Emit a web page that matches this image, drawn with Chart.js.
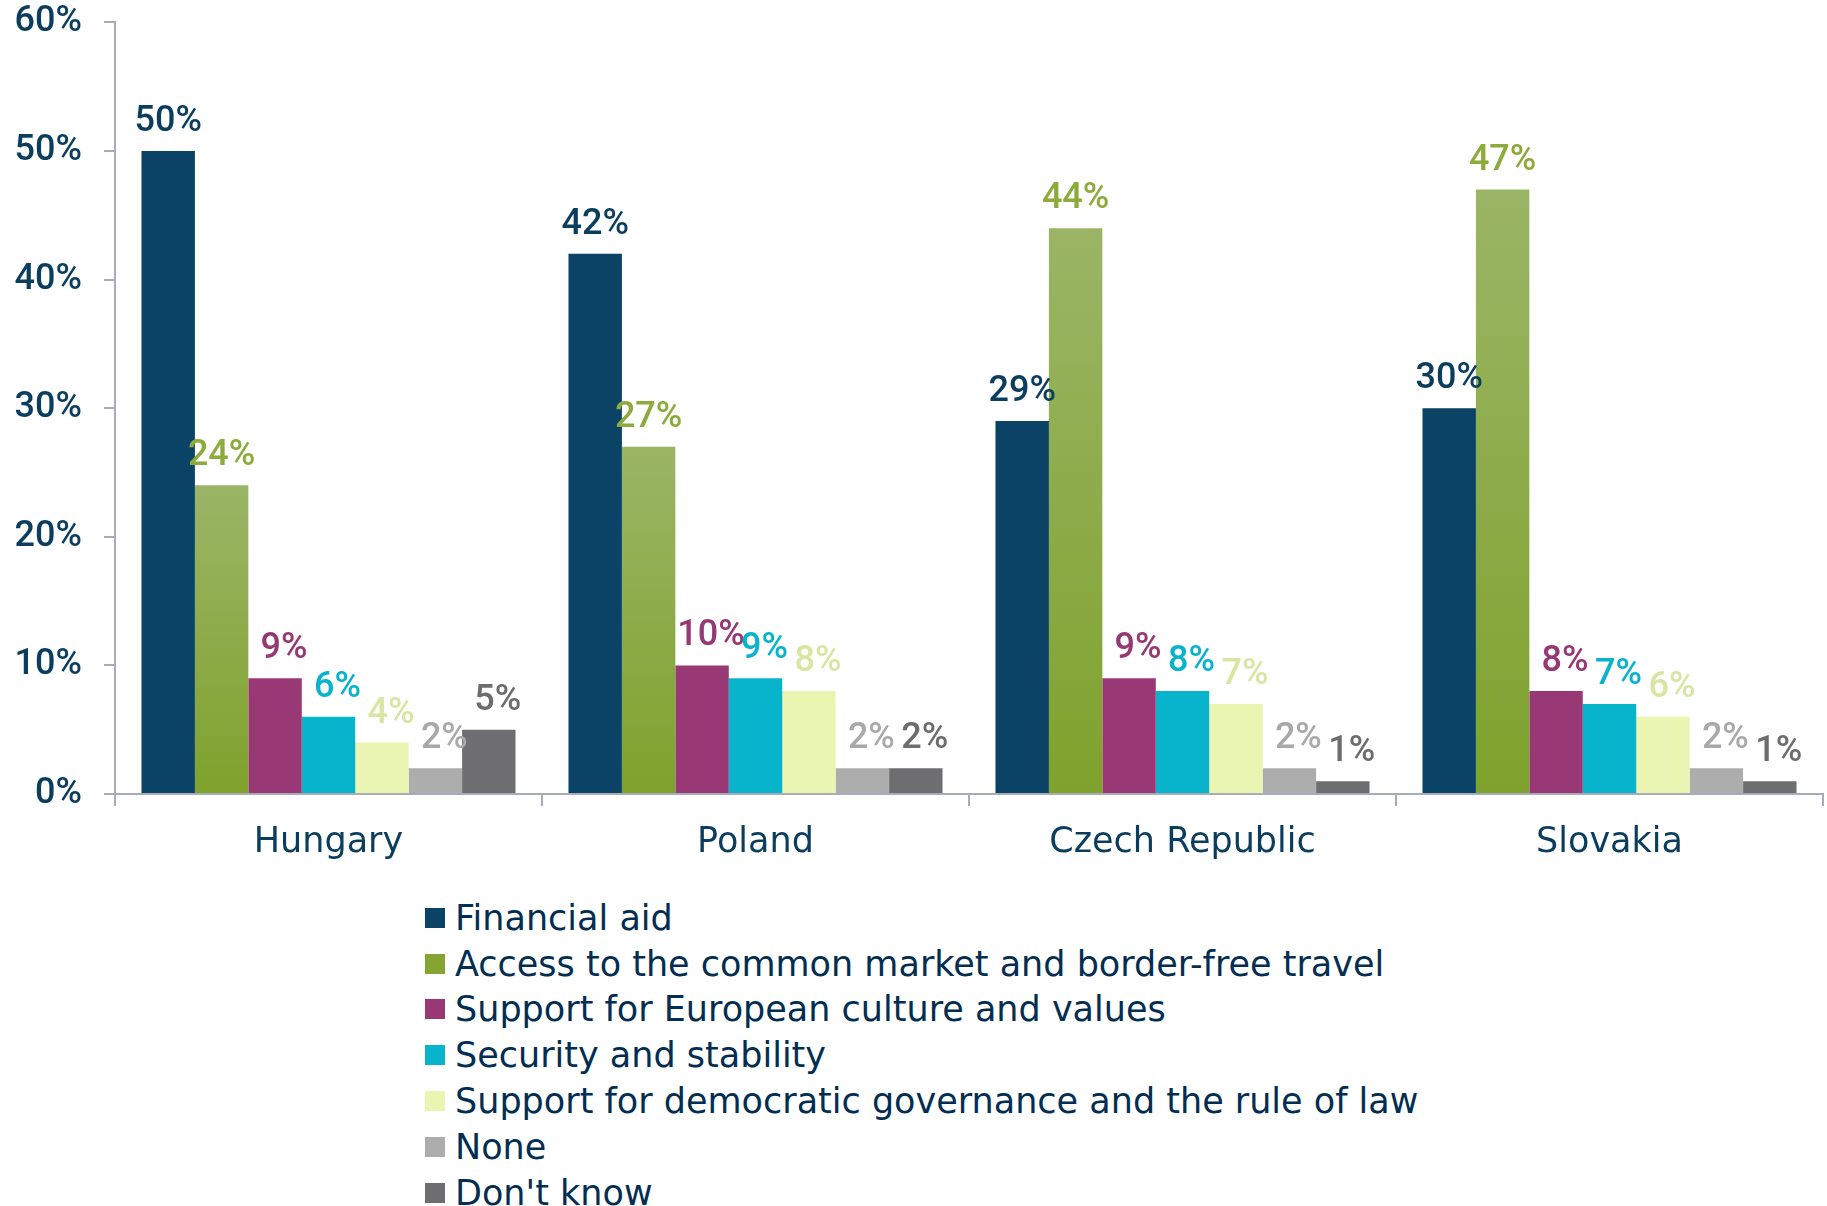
<!DOCTYPE html>
<html><head><meta charset="utf-8">
<script src="https://cdn.jsdelivr.net/npm/chart.js@4/dist/chart.umd.min.js"></script>
<style>
html,body{margin:0;padding:0;background:#fff;}
#wrap{position:relative;width:1827px;height:1206px;overflow:hidden;}
#c{position:absolute;left:0;top:0;}
#legend{position:absolute;left:425px;top:895px;font-family:"DejaVu Sans";font-size:35px;color:#032e52;}
.item{display:flex;align-items:center;height:45.8px;white-space:nowrap;}
.box{width:20px;height:20px;margin-right:10px;flex:none;}
</style></head><body>
<div id="wrap"><canvas id="c" width="1827" height="880"></canvas><div id="legend"></div></div>
<script>
const categories = ["Hungary", "Poland", "Czech Republic", "Slovakia"];
const seriesNames = ["Financial aid", "Access to the common market and border-free travel", "Support for European culture and values", "Security and stability", "Support for democratic governance and the rule of law", "None", "Don't know"];
const financialAid = [50, 42, 29, 30];
const commonMarket = [24, 27, 44, 47];
const cultureValues = [9, 10, 9, 8];
const security = [6, 9, 8, 7];
const democracy = [4, 8, 7, 6];
const none = [2, 2, 2, 2];
const dontKnow = [5, 2, 1, 1];
const yTicks = [0, 10, 20, 30, 40, 50, 60];

const seriesValues = [financialAid, commonMarket, cultureValues, security, democracy, none, dontKnow];
const barColors = ["#0a4366", "GRADIENT", "#983874", "#07b4cc", "#e9f5b1", "#adadad", "#6e6e70"];
const legendColors = ["#0a4366", "#84a532", "#983874", "#07b4cc", "#e9f5b1", "#adadad", "#6e6e70"];
const labelColors = ["#0b3d5e", "#8dab3b", "#963873", "#08b4cd", "#d8e6a4", "#a9a9a9", "#6d6d6d"];

const NUMFONT = 'Roboto';
const WORDFONT = '"DejaVu Sans"';
const WEIGHT = '500';
const axisColor = "#a7acb9";
const textColor = "#0b3d5e";
const SMALL_LABEL_NUDGE = 9; // small-bar labels sit slightly to the right, as in the original

function greenGradient(context){
  const chart = context.chart;
  const ys = chart.scales.y;
  if (!ys || context.type !== 'data') return "#8aa83c";
  const v = context.raw;
  const top = ys.getPixelForValue(v);
  const bot = ys.getPixelForValue(0);
  if (!isFinite(top) || !isFinite(bot) || top === bot) return "#8aa83c";
  const g = chart.ctx.createLinearGradient(0, top, 0, bot);
  g.addColorStop(0, "#9bb566");
  g.addColorStop(1, "#7fa22c");
  return g;
}

const datasets = seriesNames.map((name, i) => ({
  label: name,
  data: seriesValues[i],
  backgroundColor: barColors[i] === "GRADIENT" ? greenGradient : barColors[i],
  borderWidth: 0,
  categoryPercentage: 0.876,
  barPercentage: 1.0
}));

const valueLabels = {
  id: 'valueLabels',
  afterDatasetsDraw(chart){
    const ctx = chart.ctx;
    ctx.save();
    ctx.font = WEIGHT + ' 36px ' + NUMFONT;
    ctx.textAlign = 'center';
    ctx.textBaseline = 'alphabetic';
    chart.data.datasets.forEach((ds, i) => {
      const meta = chart.getDatasetMeta(i);
      const dx = i >= 2 ? SMALL_LABEL_NUDGE : 0;
      meta.data.forEach((bar, j) => {
        ctx.fillStyle = labelColors[i];
        ctx.fillText(ds.data[j] + '%', bar.x + dx, bar.y - 20);
      });
    });
    ctx.restore();
  }
};

new Chart(document.getElementById('c'), {
  type: 'bar',
  data: { labels: categories, datasets },
  options: {
    responsive: false,
    animation: false,
    layout: { padding: { top: 0, right: 4, left: 0, bottom: 0 } },
    plugins: { legend: { display: false }, tooltip: { enabled: false } },
    scales: {
      x: {
        grid: { display: true, drawOnChartArea: false, drawTicks: true, tickLength: 12, color: axisColor, lineWidth: 2, offset: true },
        border: { display: true, color: axisColor, width: 2 },
        ticks: { color: textColor, font: { family: WORDFONT, size: 35 }, padding: 16, maxRotation: 0 },
        afterFit(s){ s.height = 86; }
      },
      y: {
        min: 0, max: 60,
        afterBuildTicks(s){ s.ticks = yTicks.map(v => ({ value: v })); },
        grid: { display: true, drawOnChartArea: false, drawTicks: true, tickLength: 11, color: axisColor, lineWidth: 2 },
        border: { display: true, color: axisColor, width: 2 },
        ticks: { color: textColor, font: { family: NUMFONT, size: 36, weight: WEIGHT, lineHeight: 0.02 }, padding: 22, callback: v => v + '%' },
        afterFit(s){ s.width = 115; }
      }
    }
  },
  plugins: [valueLabels]
});

const legend = document.getElementById('legend');
seriesNames.forEach((name, i) => {
  const it = document.createElement('div'); it.className = 'item';
  const b = document.createElement('span'); b.className = 'box'; b.style.background = legendColors[i];
  const t = document.createElement('span'); t.textContent = name;
  it.appendChild(b); it.appendChild(t); legend.appendChild(it);
});
</script>
</body></html>
